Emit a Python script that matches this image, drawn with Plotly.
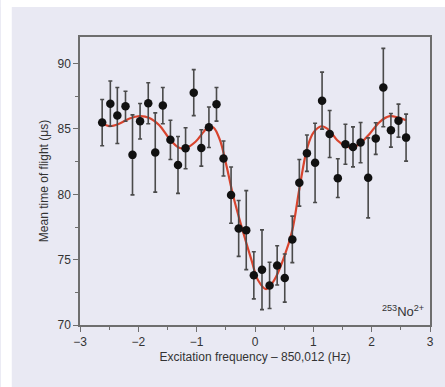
import plotly.graph_objects as go

freq_hz = [-2.62, -2.48, -2.36, -2.22, -2.10, -1.97, -1.83, -1.71, -1.58, -1.45,
           -1.32, -1.19, -1.05, -0.92, -0.79, -0.66, -0.54, -0.41, -0.28, -0.15,
           -0.02, 0.12, 0.25, 0.38, 0.51, 0.64, 0.76, 0.89, 1.03, 1.15,
           1.28, 1.42, 1.55, 1.68, 1.81, 1.94, 2.07, 2.20, 2.33, 2.46, 2.59]
tof_us = [85.49, 86.94, 86.03, 86.74, 83.02, 85.59, 86.97, 83.20, 86.79, 84.17,
          82.25, 83.53, 87.78, 83.55, 85.13, 86.89, 82.74, 79.94, 77.39, 77.26,
          73.80, 74.23, 73.03, 74.56, 73.59, 76.55, 80.88, 83.15, 82.41, 87.17,
          84.62, 81.24, 83.83, 83.63, 83.96, 81.26, 84.27, 88.17, 84.90, 85.64, 84.34]
tof_err = [1.77, 1.73, 2.14, 1.15, 3.06, 1.36, 1.57, 3.03, 1.39, 1.50,
           2.18, 1.57, 1.76, 1.39, 1.55, 1.29, 1.34, 2.15, 2.14, 3.02,
           1.80, 3.05, 1.77, 1.50, 1.84, 1.78, 1.78, 1.39, 3.03, 2.18,
           1.80, 1.48, 1.53, 1.53, 1.54, 3.06, 1.21, 3.00, 1.29, 1.26, 1.80]

# Fitted line shape
fit_x = [-2.63, -2.49, -2.32, -2.15, -1.98, -1.81, -1.64, -1.47, -1.31, -1.19,
         -1.02, -0.88, -0.80, -0.71, -0.60, -0.49, -0.37, -0.23, -0.06, 0.05,
         0.19, 0.33, 0.50, 0.64, 0.76, 0.90, 1.01, 1.14, 1.27, 1.41,
         1.55, 1.66, 1.80, 1.97, 2.14, 2.31, 2.45, 2.59]
fit_y = [85.47, 85.22, 85.42, 85.80, 85.98, 85.85, 85.29, 84.27, 83.58, 83.53,
         84.02, 84.78, 85.16, 85.11, 84.14, 82.20, 79.81, 77.52, 74.97, 73.44,
         72.75, 73.44, 75.22, 77.26, 80.40, 83.63, 84.78, 85.21, 84.91, 84.14,
         83.69, 83.58, 83.89, 84.66, 85.55, 85.98, 85.88, 85.67]

x_ticks = [-3, -2, -1, 0, 1, 2, 3]
y_ticks = [70, 75, 80, 85, 90]

panel = "#e9e9f3"
axis_col = "#6e6e6e"
font_fam = "Arial, Liberation Sans, Helvetica, sans-serif"

fig = go.Figure()
fig.add_trace(go.Scatter(
    x=fit_x, y=fit_y, mode="lines", line=dict(color="#d8442e", width=2.2, shape="spline", smoothing=1.0),
    hoverinfo="skip", showlegend=False))
fig.add_trace(go.Scatter(
    x=freq_hz, y=tof_us, mode="markers",
    marker=dict(color="#111111", size=8.5),
    error_y=dict(type="data", array=tof_err, visible=True, color="#4a4a4a", thickness=1.6, width=2),
    showlegend=False))

# white strips at the top and left edge of the picture
fig.add_shape(type="rect", xref="paper", yref="paper",
              x0=(0 - 80) / 354, x1=(11 - 80) / 354,
              y0=(325 - 400) / 288, y1=(325 - 0) / 288,
              fillcolor="white", line=dict(width=0), layer="above")
fig.add_shape(type="rect", xref="paper", yref="paper",
              x0=(0 - 80) / 354, x1=(450 - 80) / 354,
              y0=(325 - 7) / 288, y1=(325 + 5) / 288,
              fillcolor="white", line=dict(width=0), layer="above")

fig.add_annotation(xref="paper", yref="paper", x=0.988, y=0.015, xanchor="right",
                   text="<sup>253</sup>No<sup>2+</sup>", showarrow=False,
                   font=dict(family=font_fam, size=13, color="#333333"))

fig.update_layout(
    width=445, height=387,
    margin=dict(l=80, r=11, t=37, b=62),
    paper_bgcolor=panel, plot_bgcolor=panel,
    font=dict(family=font_fam, size=12, color="#333333"),
)
fig.update_xaxes(
    range=[-3, 3], tickvals=x_ticks, showgrid=False, zeroline=False,
    showline=True, linecolor=axis_col, linewidth=1.5, mirror=True,
    ticks="outside", ticklen=5, tickcolor=axis_col, tickwidth=1.2,
    minor=dict(dtick=0.5, ticks="outside", ticklen=3, tickcolor=axis_col, showgrid=False),
    title=dict(text="Excitation frequency – 850,012 (Hz)", standoff=4, font=dict(size=12)),
    tickfont=dict(size=12))
fig.update_yaxes(
    range=[70, 92.04], tickvals=y_ticks, showgrid=False, zeroline=False,
    showline=True, linecolor=axis_col, linewidth=1.5, mirror=True,
    ticks="outside", ticklen=5, tickcolor=axis_col, tickwidth=1.2,
    minor=dict(dtick=2.5, ticks="outside", ticklen=3, tickcolor=axis_col, showgrid=False),
    title=dict(text="Mean time of flight (μs)", standoff=6, font=dict(size=12)),
    tickfont=dict(size=12))

fig.write_html("out.html", config={"displayModeBar": False},
               post_script="document.body.style.margin='0';document.body.style.overflow='hidden';")
